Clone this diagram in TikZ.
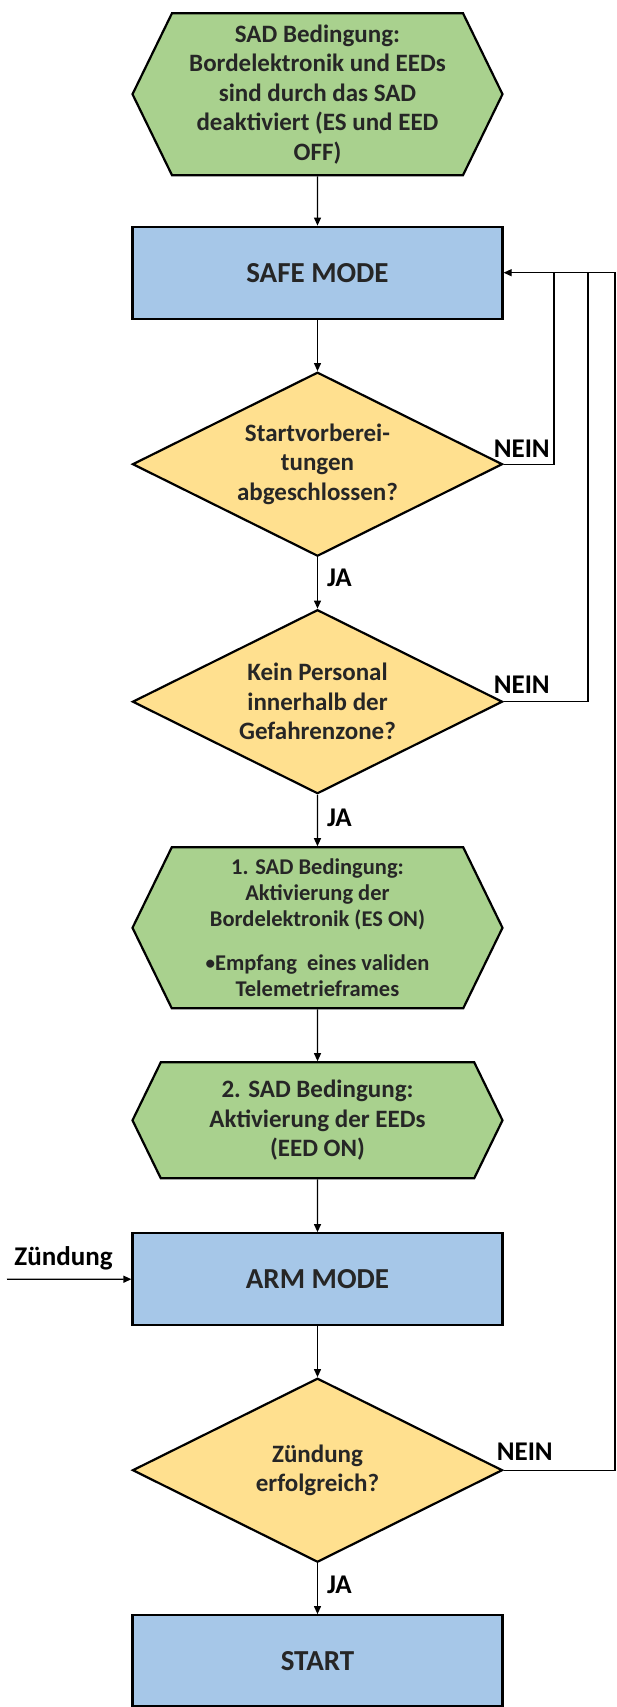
\documentclass[tikz,border=0pt]{standalone}
\usepackage{fontspec}
\setmainfont{Carlito}
\usetikzlibrary{shapes.geometric,shapes.symbols,arrows.meta}
\definecolor{bedgreen}{RGB}{169,209,142}
\definecolor{modeblue}{RGB}{166,199,232}
\definecolor{askyellow}{RGB}{255,224,143}
\tikzset{
  base/.style={draw=black,line width=2.2pt,align=center,inner sep=2pt,text=black!85,
    font=\fontsize{25}{29.5}\selectfont\bfseries},
  bedhex/.style={base,shape=signal,signal to=west and east,signal pointer angle=128,
    fill=bedgreen,minimum width=370pt},
  modebox/.style={base,rectangle,fill=modeblue,minimum width=370pt,minimum height=92pt,
    font=\fontsize{29}{34}\selectfont\bfseries},
  askdia/.style={base,diamond,aspect=2,fill=askyellow,minimum width=370pt,minimum height=184pt},
  lbl/.style={inner sep=0pt,font=\fontsize{27}{30}\selectfont\bfseries},
  flow/.style={line width=1.2pt,-{Triangle[length=8pt,width=7pt]}},
  back/.style={line width=1.2pt}
}
\begin{document}
\begin{tikzpicture}[x=1pt,y=-1pt]
\useasboundingbox (0,0) rectangle (616,1707);
% Knoten
\node[bedhex,minimum height=162pt] (bed0) at (317.5,94.2)
  {SAD Bedingung:\\Bordelektronik und EEDs\\sind durch das SAD\\deaktiviert (ES und EED\\OFF)};
\node[modebox] (safe) at (317.5,272.7) {SAFE MODE};
\node[askdia] (vorb) at (317.5,464.2) {Startvorberei-\\tungen\\abgeschlossen?};
\node[askdia] (zone) at (317.5,701.7) {Kein Personal\\innerhalb der\\Gefahrenzone?};
\node[bedhex,minimum height=161pt,font=\fontsize{22.5}{26}\selectfont\bfseries] (bed1) at (317.5,927.8)
  {1. SAD Bedingung:\\Aktivierung der\\Bordelektronik (ES ON)\\[18pt]\raisebox{1.5pt}{\fontsize{19}{19}\selectfont\textbullet}Empfang\ \ eines validen\\Telemetrieframes};
\node[bedhex,minimum height=116pt] (bed2) at (317.5,1120.3)
  {2. SAD Bedingung:\\Aktivierung der EEDs\\(EED ON)};
\node[modebox] (arm) at (317.5,1279.2) {ARM MODE};
\node[askdia] (zuend) at (317.5,1470.2) {Zündung\\erfolgreich?};
\node[modebox,minimum height=91pt] (start) at (317.5,1660.7) {START};
% Verbindungen
\draw[flow] (bed0) -- (safe);
\draw[flow] (safe) -- (vorb);
\draw[flow] (vorb) -- node[lbl,right=9pt,pos=0.4] (ja1) {JA} (zone);
\draw[flow] (zone) -- node[lbl,right=9pt,pos=0.45] (ja2) {JA} (bed1);
\draw[flow] (bed1) -- (bed2);
\draw[flow] (bed2) -- (arm);
\draw[flow] (arm) -- (zuend);
\draw[flow] (zuend) -- node[lbl,right=9pt,pos=0.42] (ja3) {JA} (start);
% Rueckfuehrung
\coordinate (r1) at (554,0);
\coordinate (r2) at (588,0);
\coordinate (r3) at (615,0);
\draw[back] (vorb.east) -| (r1 |- safe.east);
\draw[back] (zone.east) -| (r2 |- safe.east);
\draw[flow] (zuend.east) -| (r3 |- safe.east) -- (safe.east);
\node[lbl,anchor=south west] (nein1) at ([xshift=-10pt,yshift=7pt]vorb.east) {NEIN};
\node[lbl,anchor=south west] (nein2) at ([xshift=-10pt,yshift=8pt]zone.east) {NEIN};
\node[lbl,anchor=south west] (nein3) at ([xshift=-7pt,yshift=10pt]zuend.east) {NEIN};
% Eingang Zuendung
\coordinate (zin) at (7,1279.3);
\draw[flow] (zin) -- (arm.west);
\node[lbl] (zlbl) at (63.5,1258.3) {Zündung};
\end{tikzpicture}
\end{document}
